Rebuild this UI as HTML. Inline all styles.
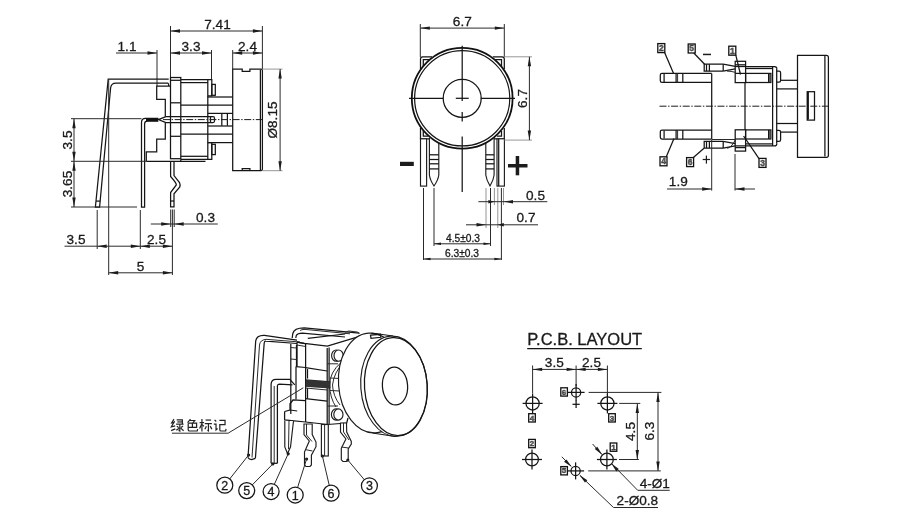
<!DOCTYPE html>
<html><head><meta charset="utf-8"><style>
html,body{margin:0;padding:0;background:#fff;}
body{width:900px;height:522px;overflow:hidden;}
svg{display:block;will-change:transform;}
.o{fill:none;stroke:#151515;stroke-width:1.25;}
.ob{fill:none;stroke:#111;stroke-width:1.8;}
.obw{fill:#fff;stroke:#111;stroke-width:1.8;}
.d{fill:none;stroke:#2a2a2a;stroke-width:1;}
.g{fill:none;stroke:#8a8a8a;stroke-width:0.9;}
.ar{fill:#1c1c1c;stroke:none;}
.cl{fill:none;stroke:#1c1c1c;stroke-width:1;stroke-dasharray:7 1.6 1.4 1.6;}
.t{font-family:"Liberation Sans",sans-serif;fill:#1a1a1a;stroke:#1a1a1a;stroke-width:0.3;}
.f{fill:#1c1c1c;stroke:none;}
.wl{fill:none;stroke:#5a5a5a;stroke-width:0.35;}
.w0{fill:#fff;stroke:none;}
.cj{fill:none;stroke:#222;stroke-width:1.15;}
.ob2{fill:#fff;stroke:#111;stroke-width:1.3;}
.bx{font-weight:bold;fill:#666;stroke:#222;stroke-width:0.35;}
.w{fill:#fff;stroke:#1c1c1c;stroke-width:1.15;}
</style></head><body>
<svg width="900" height="522" viewBox="0 0 900 522">
<line class="d" x1="170.5" y1="31" x2="262.4" y2="31"/>
<polygon class="ar" points="170.50,31.00 180.00,29.30 180.00,32.70"/>
<polygon class="ar" points="262.40,31.00 252.90,32.70 252.90,29.30"/>
<text class="t" x="217.5" y="28.7" font-size="13.6" text-anchor="middle">7.41</text>
<line class="d" x1="170.5" y1="26" x2="170.5" y2="77.5"/>
<line class="d" x1="262.4" y1="26" x2="262.4" y2="69.1"/>
<line class="d" x1="116" y1="53" x2="157" y2="53"/>
<polygon class="ar" points="157.00,53.00 147.50,54.70 147.50,51.30"/>
<text class="t" x="127" y="51" font-size="13.6" text-anchor="middle">1.1</text>
<line class="d" x1="170.5" y1="53" x2="211.5" y2="53"/>
<polygon class="ar" points="170.50,53.00 180.00,51.30 180.00,54.70"/>
<polygon class="ar" points="211.50,53.00 202.00,54.70 202.00,51.30"/>
<text class="t" x="191" y="51" font-size="13.6" text-anchor="middle">3.3</text>
<line class="d" x1="232.7" y1="53" x2="262.4" y2="53"/>
<polygon class="ar" points="232.70,53.00 242.20,51.30 242.20,54.70"/>
<polygon class="ar" points="262.40,53.00 252.90,54.70 252.90,51.30"/>
<text class="t" x="247.5" y="51" font-size="13.6" text-anchor="middle">2.4</text>
<line class="d" x1="157" y1="50" x2="157" y2="86"/>
<line class="d" x1="211.5" y1="50" x2="211.5" y2="79.8"/>
<line class="d" x1="232.7" y1="50" x2="232.7" y2="69.1"/>
<path class="o" d="M232.7,170.7 L232.7,69.1 L242.2,69.1 L242.2,71.3 L249.9,71.3 L249.9,69.1 L261,69.1 Q262.4,69.1 262.4,70.5 L262.4,169.3 Q262.4,170.7 261,170.7 Z"/>
<line class="o" x1="260.4" y1="69.8" x2="260.4" y2="170"/>
<path class="o" d="M242.2,170.7 L242.2,168.5 L249.9,168.5 L249.9,170.7"/>
<line class="g" x1="262.4" y1="69.1" x2="282.5" y2="69.1"/>
<line class="g" x1="262.4" y1="170.7" x2="282.5" y2="170.7"/>
<line class="d" x1="280.1" y1="69.1" x2="280.1" y2="170.7"/>
<polygon class="ar" points="280.10,69.10 281.80,78.60 278.40,78.60"/>
<polygon class="ar" points="280.10,170.70 278.40,161.20 281.80,161.20"/>
<text class="t" x="277.2" y="120" font-size="13.6" text-anchor="middle" transform="rotate(-90 277.2 120)">Ø8.15</text>
<rect class="o" x="170.5" y="77.5" width="10.3" height="81.2"/>
<line class="o" x1="170.5" y1="80.3" x2="180.8" y2="80.3"/>
<line class="o" x1="170.5" y1="102.8" x2="180.8" y2="102.8"/>
<line class="o" x1="170.5" y1="136.3" x2="180.8" y2="136.3"/>
<path class="o" d="M180.8,79.5 L207.8,79.5 L207.8,95.9 L211.8,95.9 L211.8,79.5 L207.8,79.5"/>
<line class="o" x1="180.8" y1="82.6" x2="207.8" y2="82.6"/>
<rect class="o" x="211.8" y="84.4" width="3.5" height="10.9"/>
<path class="o" d="M180.8,159.3 L207.8,159.3 L207.8,142.6 L211.8,142.6 L211.8,159.3 L207.8,159.3"/>
<line class="o" x1="180.8" y1="156.3" x2="207.8" y2="156.3"/>
<rect class="o" x="211.8" y="144.3" width="3.5" height="10.3"/>
<line class="o" x1="207.8" y1="95.9" x2="207.8" y2="142.6"/>
<line class="o" x1="180.8" y1="105" x2="232.7" y2="105"/>
<line class="o" x1="180.8" y1="134" x2="232.7" y2="134"/>
<line class="o" x1="207.8" y1="97" x2="232.7" y2="97"/>
<line class="o" x1="207.8" y1="113.4" x2="232.7" y2="113.4"/>
<line class="o" x1="207.8" y1="126" x2="232.7" y2="126"/>
<line class="o" x1="207.8" y1="142.6" x2="232.7" y2="142.6"/>
<line class="o" x1="221.8" y1="113.7" x2="221.8" y2="125.7"/>
<line class="o" x1="227.4" y1="113.7" x2="227.4" y2="125.7"/>
<line class="o" x1="146.3" y1="161.3" x2="205.5" y2="161.3"/>
<line class="o" x1="180.8" y1="161.3" x2="180.8" y2="159.3"/>
<path class="o" d="M170.5,86 L156.7,86 L156.7,99.3 L165.3,99.3 L165.3,116.5"/>
<path class="o" d="M165.3,122.5 L165.3,139.1 L156.7,139.1 L156.7,151.8 L146.3,151.8 L146.3,161.3"/>
<path class="o" d="M165.9,116.7 L213,116.7 Q214.5,116.7 214.5,118.2 L214.5,121 Q214.5,122.5 213,122.5 L165.9,122.5 L158.4,119.6 Z"/>
<line class="o" x1="210.5" y1="116.7" x2="210.5" y2="122.5"/>
<line class="cl" x1="163" y1="119.6" x2="262.4" y2="119.6"/>
<path class="o" d="M168.7,79.1 L108.2,79.1 L95.4,207 L99.6,207 L110.6,88 Q111,83 116,83 L167.6,83 Q168.7,83 168.7,86"/>
<line class="o" x1="96" y1="201.1" x2="100.2" y2="201.1"/>
<path class="o" d="M158.4,118.3 L145.5,118.3 Q141.5,118.3 141.5,122.3 L141.5,207 L144.6,207 L144.6,124 Q144.6,121.2 147.4,121.2 L158.4,121.2"/>
<line class="ob" x1="146" y1="119.3" x2="158" y2="119.3"/>
<line class="ob" x1="146" y1="120.3" x2="158" y2="120.3"/>
<path class="o" d="M170.6,161.3 L170.6,176.5 Q176.5,183 176.3,185 L170.6,192.5 L170.6,206.8 L174,206.8 L174,193.8 L179.8,187 Q180.5,184.5 179.5,182.5 L174,175.6 L174,161.3"/>
<line class="o" x1="170.6" y1="201" x2="174" y2="201"/>
<line class="d" x1="71" y1="118.7" x2="141.5" y2="118.7"/>
<line class="d" x1="71" y1="161.3" x2="146.3" y2="161.3"/>
<line class="d" x1="71" y1="207" x2="137" y2="207"/>
<line class="d" x1="74" y1="118.7" x2="74" y2="207"/>
<polygon class="ar" points="74.00,118.70 75.70,128.20 72.30,128.20"/>
<polygon class="ar" points="74.00,161.30 72.30,151.80 75.70,151.80"/>
<polygon class="ar" points="74.00,161.30 75.70,170.80 72.30,170.80"/>
<polygon class="ar" points="74.00,207.00 72.30,197.50 75.70,197.50"/>
<text class="t" x="71.5" y="140" font-size="13.6" text-anchor="middle" transform="rotate(-90 71.5 140)">3.5</text>
<text class="t" x="71.5" y="184" font-size="13.6" text-anchor="middle" transform="rotate(-90 71.5 184)">3.65</text>
<line class="d" x1="97.2" y1="210" x2="97.2" y2="249"/>
<line class="d" x1="108.7" y1="79" x2="108.7" y2="275"/>
<line class="d" x1="140.3" y1="210" x2="140.3" y2="249"/>
<line class="d" x1="172.4" y1="209.5" x2="172.4" y2="275"/>
<line class="d" x1="170.7" y1="209.5" x2="170.7" y2="227"/>
<line class="d" x1="174.2" y1="209.5" x2="174.2" y2="227"/>
<line class="d" x1="64.5" y1="246.2" x2="172.4" y2="246.2"/>
<polygon class="ar" points="97.20,246.20 106.70,244.50 106.70,247.90"/>
<polygon class="ar" points="140.30,246.20 130.80,247.90 130.80,244.50"/>
<polygon class="ar" points="140.30,246.20 149.80,244.50 149.80,247.90"/>
<polygon class="ar" points="172.40,246.20 162.90,247.90 162.90,244.50"/>
<text class="t" x="76" y="244.3" font-size="13.6" text-anchor="middle">3.5</text>
<text class="t" x="156.5" y="244.3" font-size="13.6" text-anchor="middle">2.5</text>
<line class="d" x1="108.7" y1="272.8" x2="172.4" y2="272.8"/>
<polygon class="ar" points="108.70,272.80 118.20,271.10 118.20,274.50"/>
<polygon class="ar" points="172.40,272.80 162.90,274.50 162.90,271.10"/>
<text class="t" x="140.5" y="270.5" font-size="13.6" text-anchor="middle">5</text>
<line class="d" x1="150.8" y1="224" x2="217.8" y2="224"/>
<polygon class="ar" points="170.70,224.00 161.20,225.70 161.20,222.30"/>
<polygon class="ar" points="174.20,224.00 183.70,222.30 183.70,225.70"/>
<text class="t" x="205.5" y="222" font-size="13.6" text-anchor="middle">0.3</text>
<line class="d" x1="420.3" y1="28.1" x2="504.3" y2="28.1"/>
<polygon class="ar" points="420.30,28.10 429.80,26.40 429.80,29.80"/>
<polygon class="ar" points="504.30,28.10 494.80,29.80 494.80,26.40"/>
<text class="t" x="462.3" y="25.6" font-size="13.6" text-anchor="middle">6.7</text>
<line class="d" x1="420.3" y1="24" x2="420.3" y2="57"/>
<line class="d" x1="504.3" y1="24" x2="504.3" y2="57"/>
<path class="o" d="M420.5,69 L420.5,59 Q420.5,56.8 422.7,56.8 L432,56.8"/>
<path class="o" d="M423.3,66 L423.3,59.6 L429.5,59.6"/>
<path class="o" d="M504.3,69 L504.3,59 Q504.3,56.8 502.1,56.8 L492.8,56.8"/>
<path class="o" d="M501.5,66 L501.5,59.6 L495.3,59.6"/>
<path class="o" d="M420.5,128 L420.5,138.8 L431,138.8"/>
<path class="o" d="M423.3,131 L423.3,136 L428,136"/>
<path class="o" d="M504.3,128 L504.3,138.8 L494,138.8"/>
<path class="o" d="M501.5,131 L501.5,136 L497,136"/>
<rect class="w" x="420.5" y="138.8" width="6.1" height="47.3"/>
<path class="w" d="M429.4,138 L429.4,175 Q430,180 434,186 Q438.2,180 438.8,175 L438.8,138"/>
<line class="o" x1="429.4" y1="154.8" x2="438.8" y2="154.8"/>
<line class="o" x1="429.4" y1="159.5" x2="438.8" y2="159.5"/>
<line class="o" x1="429.4" y1="163.8" x2="438.8" y2="163.8"/>
<line class="o" x1="429.4" y1="168.9" x2="438.8" y2="168.9"/>
<path class="w" d="M485.8,138 L485.8,175 Q486.4,180 490,186 Q493.6,180 494.1,175 L494.1,138"/>
<line class="o" x1="485.8" y1="154.8" x2="494.1" y2="154.8"/>
<line class="o" x1="485.8" y1="159.5" x2="494.1" y2="159.5"/>
<line class="o" x1="485.8" y1="163.8" x2="494.1" y2="163.8"/>
<line class="o" x1="485.8" y1="168.9" x2="494.1" y2="168.9"/>
<rect class="w" x="497" y="138.8" width="7.4" height="47.3"/>
<line class="o" x1="498.7" y1="139" x2="498.7" y2="186"/>
<circle class="obw" cx="462.2" cy="98.3" r="50.4"/>
<circle class="o" cx="462.2" cy="98.3" r="47.6"/>
<circle class="o" cx="462.2" cy="98.3" r="19"/>
<line class="o" x1="409" y1="98.3" x2="443.4" y2="98.3"/>
<line class="o" x1="455.8" y1="98.3" x2="468.7" y2="98.3"/>
<line class="o" x1="480.7" y1="98.3" x2="515" y2="98.3"/>
<line class="o" x1="462.2" y1="45.7" x2="462.2" y2="100.9"/>
<line class="o" x1="462.2" y1="111.9" x2="462.2" y2="121.6"/>
<line class="o" x1="462.2" y1="136.6" x2="462.2" y2="192"/>
<rect class="f" x="400" y="161.8" width="13.8" height="4.2"/>
<rect class="f" x="508" y="164" width="19.5" height="3.5"/>
<rect class="f" x="515.7" y="156" width="3.5" height="19.3"/>
<line class="g" x1="504.3" y1="56.8" x2="532" y2="56.8"/>
<line class="g" x1="504.3" y1="140.1" x2="532" y2="140.1"/>
<line class="d" x1="529.4" y1="56.8" x2="529.4" y2="140.1"/>
<polygon class="ar" points="529.40,56.80 531.10,66.30 527.70,66.30"/>
<polygon class="ar" points="529.40,140.10 527.70,130.60 531.10,130.60"/>
<text class="t" x="526.8" y="98.5" font-size="13.6" text-anchor="middle" transform="rotate(-90 526.8 98.5)">6.7</text>
<line class="d" x1="423.5" y1="188" x2="423.5" y2="260"/>
<line class="d" x1="434" y1="188" x2="434" y2="246"/>
<line class="d" x1="490.5" y1="188" x2="490.5" y2="246"/>
<line class="d" x1="501.4" y1="188" x2="501.4" y2="260"/>
<line class="g" x1="486" y1="188" x2="486" y2="228"/>
<line class="g" x1="494.4" y1="188" x2="494.4" y2="205"/>
<line class="g" x1="497.8" y1="188" x2="497.8" y2="228"/>
<line class="g" x1="503.5" y1="188" x2="503.5" y2="205"/>
<line class="d" x1="478.4" y1="201.7" x2="547.3" y2="201.7"/>
<polygon class="ar" points="494.40,201.70 488.40,203.40 488.40,200.00"/>
<polygon class="ar" points="503.50,201.70 513.00,200.00 513.00,203.40"/>
<text class="t" x="535.5" y="199.8" font-size="13.6" text-anchor="middle">0.5</text>
<line class="d" x1="466" y1="224.8" x2="538" y2="224.8"/>
<polygon class="ar" points="486.00,224.80 476.50,226.50 476.50,223.10"/>
<polygon class="ar" points="497.80,224.80 503.80,223.10 503.80,226.50"/>
<text class="t" x="526" y="221.6" font-size="13.6" text-anchor="middle">0.7</text>
<line class="d" x1="434" y1="243.8" x2="490.5" y2="243.8"/>
<polygon class="ar" points="434.00,243.80 441.00,242.50 441.00,245.10"/>
<polygon class="ar" points="490.50,243.80 483.50,245.10 483.50,242.50"/>
<text class="t" x="463" y="242.3" font-size="10.2" text-anchor="middle">4.5±0.3</text>
<line class="d" x1="423.5" y1="259" x2="501.4" y2="259"/>
<polygon class="ar" points="423.50,259.00 430.50,257.70 430.50,260.30"/>
<polygon class="ar" points="501.40,259.00 494.40,260.30 494.40,257.70"/>
<text class="t" x="462" y="257.4" font-size="10.2" text-anchor="middle">6.3±0.3</text>
<path class="o" d="M711.7,73.4 L662,73.4 Q660.3,73.4 660.3,75.10000000000001 L660.3,80.7 Q660.3,82.4 662,82.4 L711.7,82.4"/>
<line class="o" x1="664.1" y1="73.9" x2="664.1" y2="81.9"/>
<line class="o" x1="676.1" y1="73.4" x2="676.1" y2="82.4"/>
<line class="d" x1="677.6" y1="73.4" x2="677.6" y2="82.4"/>
<line class="o" x1="682.8" y1="73.4" x2="682.8" y2="82.4"/>
<path class="o" d="M723.2,64.2 L704.2,64.2 L704.2,71.1 L723.2,71.1"/>
<line class="o" x1="706.5" y1="64.2" x2="706.5" y2="71.1"/>
<line class="o" x1="709.4" y1="64.2" x2="709.4" y2="71.1"/>
<line class="o" x1="723.2" y1="64.2" x2="723.2" y2="71.1"/>
<path class="o" d="M723.2,64.2 L735.2,66.45"/>
<path class="o" d="M723.2,71.1 L735.2,68.85000000000001"/>
<path class="d" d="M727,71.1 Q731,71.1 735.2,72.3"/>
<rect class="o" x="735.2" y="61.3" width="10.4" height="21.299999999999997"/>
<line class="o" x1="735.2" y1="64.8" x2="745.6" y2="64.8"/>
<line class="o" x1="735.2" y1="66.5" x2="745.6" y2="66.5"/>
<line class="o" x1="735.2" y1="73.4" x2="745.6" y2="73.4"/>
<rect class="o" x="745.6" y="73.4" width="25.3" height="9.099999999999994"/>
<line class="o" x1="768.6" y1="73.4" x2="768.6" y2="82.5"/>
<line class="d" x1="769.8" y1="73.4" x2="769.8" y2="82.5"/>
<path class="o" d="M745.6,66.5 L774.6,66.5 Q776.8,66.5 776.8,68.7"/>
<line class="o" x1="745.6" y1="68.5" x2="772.6" y2="68.5"/>
<path class="o" d="M776.6,71.1 L779,71.1 Q780.6,71.1 780.6,72.69999999999999 L780.6,80.4 Q780.6,82 779,82 L776.6,82"/>
<line class="o" x1="780.6" y1="80.3" x2="797.5" y2="80.3"/>
<line class="o" x1="776.6" y1="88.9" x2="797.5" y2="88.9"/>
<path class="o" d="M711.7,130.0 L662,130.0 Q660.3,130.0 660.3,131.7 L660.3,137.3 Q660.3,139.0 662,139.0 L711.7,139.0"/>
<line class="o" x1="664.1" y1="130.5" x2="664.1" y2="138.5"/>
<line class="o" x1="676.1" y1="130.0" x2="676.1" y2="139.0"/>
<line class="d" x1="677.6" y1="130.0" x2="677.6" y2="139.0"/>
<line class="o" x1="682.8" y1="130.0" x2="682.8" y2="139.0"/>
<path class="o" d="M723.2,141.3 L704.2,141.3 L704.2,148.2 L723.2,148.2"/>
<line class="o" x1="706.5" y1="141.3" x2="706.5" y2="148.2"/>
<line class="o" x1="709.4" y1="141.3" x2="709.4" y2="148.2"/>
<line class="o" x1="723.2" y1="141.3" x2="723.2" y2="148.2"/>
<path class="o" d="M723.2,141.3 L735.2,143.55"/>
<path class="o" d="M723.2,148.2 L735.2,145.95"/>
<path class="d" d="M727,148.2 Q731,148.2 735.2,140.1"/>
<rect class="o" x="735.2" y="129.8" width="10.4" height="21.299999999999983"/>
<line class="o" x1="735.2" y1="147.6" x2="745.6" y2="147.6"/>
<line class="o" x1="735.2" y1="145.9" x2="745.6" y2="145.9"/>
<line class="o" x1="735.2" y1="139.0" x2="745.6" y2="139.0"/>
<rect class="o" x="745.6" y="129.9" width="25.3" height="9.099999999999994"/>
<line class="o" x1="768.6" y1="129.9" x2="768.6" y2="139.0"/>
<line class="d" x1="769.8" y1="129.9" x2="769.8" y2="139.0"/>
<path class="o" d="M745.6,145.9 L774.6,145.9 Q776.8,145.9 776.8,143.7"/>
<line class="o" x1="745.6" y1="143.9" x2="772.6" y2="143.9"/>
<path class="o" d="M776.6,130.4 L779,130.4 Q780.6,130.4 780.6,132.0 L780.6,139.70000000000002 Q780.6,141.3 779,141.3 L776.6,141.3"/>
<line class="o" x1="780.6" y1="132.1" x2="797.5" y2="132.1"/>
<line class="o" x1="776.6" y1="123.5" x2="797.5" y2="123.5"/>
<line class="o" x1="711.7" y1="73.4" x2="711.7" y2="139.0"/>
<line class="o" x1="745" y1="82.6" x2="745" y2="129.8"/>
<line class="d" x1="711.7" y1="139.5" x2="735.2" y2="139.5"/>
<line class="o" x1="772.6" y1="66.5" x2="772.6" y2="145.9"/>
<line class="o" x1="776.7" y1="68.7" x2="776.7" y2="143.7"/>
<path class="o" d="M797.5,55.3 L826.4,55.3 Q828.4,55.3 828.4,57.3 L828.4,155.5 Q828.4,157.3 826.4,157.3 L797.5,157.3 Z"/>
<line class="o" x1="824.9" y1="56" x2="824.9" y2="156.6"/>
<rect class="o" x="807.2" y="91.7" width="7.3" height="28.4"/>
<line class="ob" x1="808" y1="92" x2="808" y2="119.6"/>
<line class="cl" x1="659.5" y1="106.2" x2="829" y2="106.2"/>
<rect class="ob2" x="657.8" y="43.6" width="7" height="9"/>
<text class="t bx" x="661.3" y="51.0" font-size="8.5" text-anchor="middle">2</text>
<line class="o" x1="664.6" y1="52.5" x2="673.7" y2="73.8"/>
<rect class="ob2" x="688.2" y="44" width="7" height="9"/>
<text class="t bx" x="691.7" y="51.4" font-size="8.5" text-anchor="middle">5</text>
<line class="o" x1="693.8" y1="53" x2="704.6" y2="64.3"/>
<rect class="ob2" x="728.8" y="46.2" width="7" height="9"/>
<text class="t bx" x="732.3" y="53.6" font-size="8.5" text-anchor="middle">1</text>
<line class="o" x1="735.8" y1="55.2" x2="740.5" y2="74.5"/>
<rect class="ob2" x="660" y="156.8" width="7" height="9"/>
<text class="t bx" x="663.5" y="164.20000000000002" font-size="8.5" text-anchor="middle">4</text>
<line class="o" x1="666.3" y1="156.8" x2="674" y2="138.6"/>
<rect class="ob2" x="686.6" y="157.6" width="7" height="9"/>
<text class="t bx" x="690.1" y="165.0" font-size="8.5" text-anchor="middle">6</text>
<line class="o" x1="693.1" y1="157.8" x2="704" y2="148.3"/>
<rect class="ob2" x="759" y="158.4" width="7" height="9"/>
<text class="t bx" x="762.5" y="165.8" font-size="8.5" text-anchor="middle">3</text>
<line class="o" x1="759" y1="158.6" x2="743.6" y2="136"/>
<rect class="f" x="703" y="53.7" width="8" height="1.5"/>
<rect class="f" x="702.7" y="158.9" width="7.4" height="1.2"/>
<rect class="f" x="705.8" y="155.6" width="1.2" height="8"/>
<line class="d" x1="711.7" y1="140" x2="711.7" y2="190.6"/>
<line class="d" x1="735" y1="154" x2="735" y2="190.6"/>
<line class="d" x1="667" y1="189" x2="711.7" y2="189"/>
<polygon class="ar" points="711.70,189.00 702.20,190.70 702.20,187.30"/>
<line class="d" x1="735" y1="189" x2="755" y2="189"/>
<polygon class="ar" points="735.00,189.00 744.50,187.30 744.50,190.70"/>
<text class="t" x="678.3" y="185.7" font-size="13.6" text-anchor="middle">1.9</text>
<path class="o" d="M248,457.5 L255.7,341 Q256.5,335 264.4,335.3 L297,340.2"/>
<path class="o" d="M255.4,458.3 L264.2,343 Q264.5,341 266,341.2 L297,343.5"/>
<path class="d" d="M252,457.5 L259.5,345 Q260,340 266,339.3 L300,342"/>
<path class="o" d="M248,457.5 Q249,459.5 251.5,459.5 L255.4,458.3"/>
<path class="o" d="M292.2,338 L292.8,333.5 Q294,327.8 304.2,327.8 L359.3,333.1"/>
<path class="d" d="M300,330.5 Q301.5,329.4 305,329.4 L350,333.8"/>
<path class="o" d="M295.8,338 L296.3,335.5 Q297.5,333.2 302.4,333.1 L345,337"/>
<path class="o" d="M307.8,338.4 L345.1,334"/>
<path class="d" d="M345,333.6 Q346,331 349,331 L357,332 Q359.3,332.4 359.3,333.6"/>
<path class="o" d="M297,342.2 L304.2,343.3 L327.3,346.2 L362.9,335.3"/>
<path class="o" d="M297,342.2 L305.1,343.6"/>
<path class="d" d="M297,345 L305.1,346.4"/>
<line class="o" x1="297" y1="342.2" x2="297" y2="366.6"/>
<line class="o" x1="305.6" y1="343.6" x2="305.6" y2="422"/>
<path class="o" d="M290.8,344 L290.8,414"/>
<path class="o" d="M296.5,345 L296.5,366.6"/>
<line class="d" x1="290.8" y1="347.5" x2="296.5" y2="348"/>
<line class="d" x1="290.8" y1="359" x2="296.5" y2="359.5"/>
<path class="o" d="M296,366.6 L305.6,367.5"/>
<line class="o" x1="296" y1="366.6" x2="296" y2="399.5"/>
<line class="o" x1="327.2" y1="348" x2="327.2" y2="424.5"/>
<path class="o" d="M305.6,367.6 L327.2,371"/>
<path class="o" d="M307.5,369 L307.5,378.6"/>
<path class="o" d="M307.5,388 L307.5,398.6"/>
<path class="o" d="M305.6,398.6 L327.2,401.2"/>
<path class="d" d="M305.6,388 L327.2,390"/>
<line class="o" x1="329.1" y1="347.5" x2="329.1" y2="424"/>
<path class="d" d="M327.2,363.8 L338,363.8"/>
<path class="d" d="M327.2,406 L338,406"/>
<path class="d" d="M330,378 L340,378.5 L340,391 L330,390.5"/>
<path class="d" d="M343.5,362.8 Q334,372 332.5,385 Q333,396 340,405"/>
<path class="d" d="M340.6,363 Q330,372 329.5,385 Q330,398 336,407"/>
<path class="f" d="M305.2,379.3 L330.5,381.2 L330.5,388.6 L305.2,386.8 Z"/>
<line class="wl" x1="306" y1="380.2" x2="329.8" y2="382.0"/>
<line class="wl" x1="306" y1="381.05" x2="329.8" y2="382.85"/>
<line class="wl" x1="306" y1="381.9" x2="329.8" y2="383.7"/>
<line class="wl" x1="306" y1="382.75" x2="329.8" y2="384.55"/>
<line class="wl" x1="306" y1="383.59999999999997" x2="329.8" y2="385.4"/>
<line class="wl" x1="306" y1="384.45" x2="329.8" y2="386.25"/>
<line class="wl" x1="306" y1="385.3" x2="329.8" y2="387.1"/>
<line class="wl" x1="306" y1="386.15" x2="329.8" y2="387.95"/>
<path class="o" d="M327.6,424.5 L346.7,423 L348,418"/>
<ellipse class="w" cx="336.2" cy="355.6" rx="4.6" ry="5.6" transform="rotate(0 336.2 355.6)"/>
<ellipse class="w" cx="338.6" cy="355.6" rx="4.6" ry="5.6" transform="rotate(0 338.6 355.6)"/>
<ellipse class="w" cx="336" cy="414.5" rx="4.6" ry="5.6" transform="rotate(0 336 414.5)"/>
<ellipse class="w" cx="338.4" cy="414.5" rx="4.6" ry="5.6" transform="rotate(0 338.4 414.5)"/>
<path class="o" d="M284.6,411.5 L284.6,419.9 L305.6,422 L327.6,424.5"/>
<path class="o" d="M284.6,411.5 L290,410 L290,403.8 L293,400 L305.3,400.7"/>
<line class="o" x1="290" y1="410" x2="297.2" y2="411"/>
<path class="o" d="M271.1,463.3 L271.1,384 Q271.5,379.3 276,379.3 L289.8,379.4 L294.8,384.8"/>
<path class="o" d="M277.4,463.3 L277.4,386 Q277.6,384.2 279.5,384.2 L292.5,384.8"/>
<line class="d" x1="274.2" y1="386" x2="274.2" y2="463"/>
<path class="o" d="M271.1,463.3 L277.4,463.3"/>
<path class="w" d="M284.8,421 L284.8,447 L287.5,453.5 L290.5,447 L293.5,421"/>
<line class="d" x1="289" y1="421" x2="288.5" y2="449"/>
<polygon class="w" points="304,424 304,434.5 309.3,441 304.5,452 304.5,465 306,466.5 310,466.5 311.4,465 311.4,455.2 316,446.7 316,442.1 312.2,434.5 312.2,424"/>
<path class="d" d="M306.5,424 L306.5,435 L312,441.5"/>
<line class="d" x1="305" y1="449.5" x2="312.5" y2="451"/>
<rect class="w" x="321.4" y="424.5" width="6.9" height="31.5"/>
<line class="d" x1="324.6" y1="425" x2="324.6" y2="456"/>
<polygon class="w" points="340.5,423 340.5,432 345.9,439 341.3,448.3 341.3,459.8 343,461.5 346.5,461.5 348.2,460 348.2,449 351.3,444 351.3,441.4 346.7,432 346.5,423"/>
<path class="d" d="M343.5,423 L343.5,432 L349,440"/>
<line class="d" x1="341.5" y1="447" x2="348.5" y2="448"/>
<path class="w0" d="M371,333 L393.5,336 L396,436.2 L373,433 Z"/>
<ellipse class="w" cx="372" cy="383" rx="33.5" ry="50" transform="rotate(-4 372 383)"/>
<path class="o" d="M371.5,333 L393,336"/>
<path class="o" d="M372.5,433 L395,436.5"/>
<ellipse class="w" cx="394" cy="386.2" rx="33.2" ry="50.2" transform="rotate(-4 394 386.2)"/>
<ellipse class="o" cx="395.9" cy="386.6" rx="31.4" ry="49" transform="rotate(-4 395.9 386.6)"/>
<ellipse class="o" cx="395" cy="386" rx="12.6" ry="19" transform="rotate(-4 395 386)"/>
<path class="o" d="M370.5,335.2 L380.5,334.3 L380.8,337.3 L371,338.3 Z"/>
<circle class="f" cx="248.6" cy="455" r="1.6"/>
<circle class="f" cx="272.8" cy="464" r="1.6"/>
<circle class="f" cx="288.2" cy="453.8" r="1.6"/>
<circle class="f" cx="306.6" cy="459" r="1.6"/>
<circle class="f" cx="322.4" cy="456" r="1.6"/>
<circle class="f" cx="347.8" cy="460" r="1.6"/>
<line class="d" x1="229.75175577826622" y1="478.91667964270425" x2="248.6" y2="455"/>
<circle class="o" cx="224.8" cy="485.2" r="8"/>
<text class="t" x="224.8" y="489.7" font-size="12.5" text-anchor="middle">2</text>
<line class="d" x1="252.30293173503378" y1="484.88973240797327" x2="272.8" y2="464"/>
<circle class="o" cx="246.7" cy="490.6" r="8"/>
<text class="t" x="246.7" y="495.1" font-size="12.5" text-anchor="middle">5</text>
<line class="d" x1="274.4045984819342" y1="484.2144232298878" x2="288.2" y2="453.8"/>
<circle class="o" cx="271.1" cy="491.5" r="8"/>
<text class="t" x="271.1" y="496.0" font-size="12.5" text-anchor="middle">4</text>
<line class="d" x1="297.61513363755523" y1="487.37326219719404" x2="306.6" y2="459"/>
<circle class="o" cx="295.2" cy="495" r="8"/>
<text class="t" x="295.2" y="499.5" font-size="12.5" text-anchor="middle">1</text>
<line class="d" x1="329.2781914894814" y1="485.410198092955" x2="322.4" y2="456"/>
<circle class="o" cx="331.1" cy="493.2" r="8"/>
<text class="t" x="331.1" y="497.7" font-size="12.5" text-anchor="middle">6</text>
<line class="d" x1="364.26450674832523" y1="479.6659386160552" x2="347.8" y2="460"/>
<circle class="o" cx="369.4" cy="485.8" r="8"/>
<text class="t" x="369.4" y="490.3" font-size="12.5" text-anchor="middle">3</text>
<path class="d" d="M171.9,433.2 L228.1,433.2 L303.3,387.8"/>
<g transform="translate(170.8 418.8) scale(1.05)"><path class="cj" d="M3,0.3 L0.8,4 L3.3,3.6"/><path class="cj" d="M3.6,2.2 L0.5,7.6 L4.2,6.8"/><path class="cj" d="M0.3,11.3 L4.3,9.6"/><path class="cj" d="M5.6,1 L11,1 L11,5"/><path class="cj" d="M6.2,3 L11,3"/><path class="cj" d="M5,5.1 L12.2,5.1"/><path class="cj" d="M8.6,5.1 L8.6,11.6 L7.4,11"/><path class="cj" d="M5.8,7 L7.6,8.4"/><path class="cj" d="M5.2,11 L8.4,8.8"/><path class="cj" d="M11.6,6.8 L9.6,8.4"/><path class="cj" d="M9.2,8.6 L12.2,11.4"/></g>
<g transform="translate(186.1 418.8) scale(1.05)"><path class="cj" d="M4.2,0.2 L1.4,3.6"/><path class="cj" d="M3.6,1.6 L8.2,1.6 L6.4,4"/><path class="cj" d="M2,4.2 L10,4.2 L10,8.2 L2,8.2"/><path class="cj" d="M6,4.2 L6,8.2"/><path class="cj" d="M2,4.2 L2,10.4 Q2,11.6 3.4,11.6 L10.6,11.6 L11,9.8"/></g>
<g transform="translate(199.3 418.8) scale(1.05)"><path class="cj" d="M0.3,3.6 L4.6,3.6"/><path class="cj" d="M2.5,0.2 L2.5,12"/><path class="cj" d="M2.4,4.6 L0.3,9.2"/><path class="cj" d="M2.8,5.6 L4.4,7.2"/><path class="cj" d="M6,1.2 L11.2,1.2"/><path class="cj" d="M5.2,4.6 L12,4.6"/><path class="cj" d="M8.7,4.6 L8.7,11.6 L7.7,11"/><path class="cj" d="M6.8,7 L5.3,10"/><path class="cj" d="M10.4,7 L12,10"/></g>
<g transform="translate(213.5 418.8) scale(1.05)"><path class="cj" d="M1,1 L2.6,2.6"/><path class="cj" d="M0.3,5 L2.4,5 L2.4,10.6 L3.9,9.2"/><path class="cj" d="M5.6,1.5 L11,1.5 L11,5.6 L6,5.6 L6,10.4 Q6,11.6 7.2,11.6 L11.6,11.6 L11.9,9.6"/></g>
<text class="t" x="584.7" y="345" font-size="16.5" text-anchor="middle">P.C.B. LAYOUT</text>
<line class="o" x1="527.2" y1="348.7" x2="641.8" y2="348.7"/>
<line class="d" x1="532.6" y1="369.4" x2="607.4" y2="369.4"/>
<polygon class="ar" points="532.60,369.40 542.10,367.70 542.10,371.10"/>
<polygon class="ar" points="576.10,369.40 566.60,371.10 566.60,367.70"/>
<polygon class="ar" points="576.10,369.40 585.60,367.70 585.60,371.10"/>
<polygon class="ar" points="607.40,369.40 597.90,371.10 597.90,367.70"/>
<text class="t" x="554.3" y="366.6" font-size="13.6" text-anchor="middle">3.5</text>
<text class="t" x="591.5" y="366.6" font-size="13.6" text-anchor="middle">2.5</text>
<line class="d" x1="532.6" y1="365.5" x2="532.6" y2="393"/>
<line class="d" x1="576.1" y1="365.5" x2="576.1" y2="386"/>
<line class="d" x1="607.4" y1="365.5" x2="607.4" y2="395"/>
<circle class="o" cx="532.6" cy="403.4" r="6.6"/>
<line class="o" x1="522.6" y1="403.4" x2="542.6" y2="403.4"/>
<line class="o" x1="532.6" y1="393.4" x2="532.6" y2="413.4"/>
<circle class="o" cx="607.4" cy="403.4" r="6.6"/>
<line class="o" x1="597.4" y1="403.4" x2="617.4" y2="403.4"/>
<line class="o" x1="607.4" y1="393.4" x2="607.4" y2="413.4"/>
<circle class="o" cx="532" cy="459.5" r="6.4"/>
<line class="o" x1="522" y1="459.5" x2="542" y2="459.5"/>
<line class="o" x1="532" y1="449.5" x2="532" y2="469.5"/>
<circle class="o" cx="606.9" cy="459.5" r="6.4"/>
<line class="o" x1="596.9" y1="459.5" x2="616.9" y2="459.5"/>
<line class="o" x1="606.9" y1="449.5" x2="606.9" y2="469.5"/>
<circle class="o" cx="576.1" cy="392.4" r="4.6"/>
<line class="o" x1="567.6" y1="392.4" x2="584.6" y2="392.4"/>
<line class="o" x1="576.1" y1="383.9" x2="576.1" y2="400.9"/>
<circle class="o" cx="575.6" cy="470.9" r="4.6"/>
<line class="o" x1="567.1" y1="470.9" x2="584.1" y2="470.9"/>
<line class="o" x1="575.6" y1="462.4" x2="575.6" y2="479.4"/>
<line class="o" x1="572.5" y1="404.3" x2="579.7" y2="404.3"/>
<line class="o" x1="576.1" y1="400.6" x2="576.1" y2="408"/>
<rect class="ob2" x="560.8" y="387.8" width="6.6" height="8.3"/>
<text class="t bx" x="564.0999999999999" y="394.6" font-size="8" text-anchor="middle">6</text>
<rect class="ob2" x="528.7" y="413.7" width="6.6" height="8.3"/>
<text class="t bx" x="532.0" y="420.5" font-size="8" text-anchor="middle">4</text>
<rect class="ob2" x="608.7" y="413.7" width="6.6" height="8.3"/>
<text class="t bx" x="612.0" y="420.5" font-size="8" text-anchor="middle">3</text>
<rect class="ob2" x="528.7" y="439.4" width="6.6" height="8.3"/>
<text class="t bx" x="532.0" y="446.2" font-size="8" text-anchor="middle">2</text>
<rect class="ob2" x="610.2" y="443" width="6.6" height="8.3"/>
<text class="t bx" x="613.5" y="449.8" font-size="8" text-anchor="middle">1</text>
<rect class="ob2" x="560.8" y="466.6" width="6.6" height="8.3"/>
<text class="t bx" x="564.0999999999999" y="473.40000000000003" font-size="8" text-anchor="middle">5</text>
<line class="d" x1="588.6" y1="392.4" x2="661.4" y2="392.4"/>
<line class="d" x1="619.2" y1="403.4" x2="640.3" y2="403.4"/>
<line class="d" x1="619" y1="459.5" x2="638.8" y2="459.5"/>
<line class="d" x1="588.2" y1="470.9" x2="660.8" y2="470.9"/>
<line class="d" x1="637.3" y1="403.4" x2="637.3" y2="459.5"/>
<polygon class="ar" points="637.30,403.40 639.00,412.90 635.60,412.90"/>
<polygon class="ar" points="637.30,459.50 635.60,450.00 639.00,450.00"/>
<line class="d" x1="658" y1="392.4" x2="658" y2="470.9"/>
<polygon class="ar" points="658.00,392.40 659.70,401.90 656.30,401.90"/>
<polygon class="ar" points="658.00,470.90 656.30,461.40 659.70,461.40"/>
<text class="t" x="634.6" y="431.5" font-size="13.6" text-anchor="middle" transform="rotate(-90 634.6 431.5)">4.5</text>
<text class="t" x="654.4" y="431" font-size="13.6" text-anchor="middle" transform="rotate(-90 654.4 431)">6.3</text>
<line class="d" x1="592.6" y1="444" x2="602" y2="454.5"/>
<polygon class="ar" points="602.40,455.00 594.78,449.08 597.31,446.80"/>
<line class="d" x1="611.5" y1="463.5" x2="637.7" y2="490.3"/>
<polygon class="ar" points="611.20,463.20 618.82,469.12 616.29,471.40"/>
<line class="d" x1="637.7" y1="490.3" x2="669.7" y2="490.3"/>
<text class="t" x="654.8" y="488" font-size="13.6" text-anchor="middle">4-Ø1</text>
<line class="d" x1="561.8" y1="456.8" x2="571" y2="466"/>
<polygon class="ar" points="572.00,467.30 564.08,461.78 566.48,459.38"/>
<line class="d" x1="580" y1="475.5" x2="613.5" y2="507.5"/>
<polygon class="ar" points="579.30,474.80 587.31,480.18 584.95,482.62"/>
<line class="d" x1="613.5" y1="507.5" x2="658" y2="507.5"/>
<text class="t" x="637.4" y="504.6" font-size="13.6" text-anchor="middle">2-Ø0.8</text>
</svg></body></html>
